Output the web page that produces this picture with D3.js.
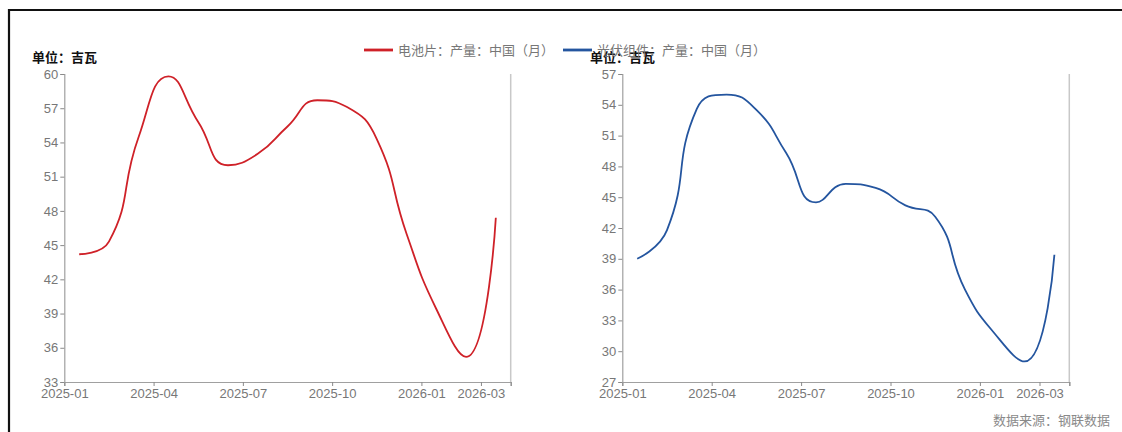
<!DOCTYPE html>
<html><head><meta charset="utf-8">
<script src="https://cdn.jsdelivr.net/npm/d3@7"></script>
<style>
html,body{margin:0;padding:0;background:#fff;}
svg{display:block;}
</style></head>
<body>
<script>
const months = ["2025-01","2025-02","2025-03","2025-04","2025-05","2025-06","2025-07","2025-08","2025-09","2025-10","2025-11","2025-12","2026-01","2026-02","2026-03"];
const cellOutput = [44.2,45.3,54.5,59.8,55.8,52.0,53.0,55.4,57.7,57.1,54.3,46.0,39.4,35.2,47.4];
const moduleOutput = [39.0,41.8,53.6,55.0,53.5,49.3,44.5,46.3,45.9,44.2,43.1,36.0,31.7,29.0,39.4];
const xTickLabels = ["2025-01","2025-04","2025-07","2025-10","2026-01","2026-03"];
const leftYTicks = [33,36,39,42,45,48,51,54,57,60];
const rightYTicks = [27,30,33,36,39,42,45,48,51,54,57];
const seriesNames = ["电池片：产量：中国（月）","光伏组件：产量：中国（月）"];
const colors = ["#cf2128","#24559f"];
const unitLabel = "单位：吉瓦";
const sourceLabel = "数据来源：钢联数据";

// smooth curve (segment-length weighted bezier with bounding-box constraints)
function curveSmoothBox(context) {
  let pts = [];
  const smooth = 0.5;
  return {
    areaStart() {}, areaEnd() {},
    lineStart() { pts = []; },
    point(x, y) { pts.push([+x, +y]); },
    lineEnd() {
      const n = pts.length;
      if (!n) return;
      context.moveTo(pts[0][0], pts[0][1]);
      let cp0x = pts[0][0], cp0y = pts[0][1];
      for (let i = 1; i < n; i++) {
        const [x, y] = pts[i];
        const [px, py] = pts[i - 1];
        let cp1x, cp1y, ncx = x, ncy = y;
        if (i === n - 1) { cp1x = x; cp1y = y; }
        else {
          const [nx, ny] = pts[i + 1];
          let vx = nx - px, vy = ny - py;
          const lp = Math.hypot(x - px, y - py), ln = Math.hypot(nx - x, ny - y);
          const r = ln / (ln + lp);
          ncx = x + vx * smooth * r; ncy = y + vy * smooth * r;
          ncx = Math.max(Math.min(ncx, Math.max(nx, x)), Math.min(nx, x));
          ncy = Math.max(Math.min(ncy, Math.max(ny, y)), Math.min(ny, y));
          vx = ncx - x; vy = ncy - y;
          cp1x = x - vx * lp / ln; cp1y = y - vy * lp / ln;
          cp1x = Math.max(Math.min(cp1x, Math.max(px, x)), Math.min(px, x));
          cp1y = Math.max(Math.min(cp1y, Math.max(py, y)), Math.min(py, y));
          vx = x - cp1x; vy = y - cp1y;
          ncx = x + vx * ln / lp; ncy = y + vy * ln / lp;
        }
        context.bezierCurveTo(cp0x, cp0y, cp1x, cp1y, x, y);
        cp0x = ncx; cp0y = ncy;
      }
    }
  };
}

const W = 1122, H = 432;
const svg = d3.select("body").append("svg").attr("width", W).attr("height", H);

// frame
svg.append("path").attr("d", `M9,${H} L9,10 L${W},10`).attr("fill","none").attr("stroke","#111").attr("stroke-width",2.2);

const monthIdx = m => { const [y, mo] = m.split("-").map(Number); return (y - 2025) * 12 + (mo - 1); };

function panel(x0, x1, yTicks, values, color) {
  const top = 74, bottom = 382;
  const x = d3.scaleLinear().domain([0, 15]).range([x0, x1]);
  const y = d3.scaleLinear().domain([yTicks[0], yTicks[yTicks.length - 1]]).range([bottom, top]);
  const g = svg.append("g");
  g.append("line").attr("x1", x1).attr("x2", x1).attr("y1", top).attr("y2", bottom)
    .attr("stroke", "#c8c8c8").attr("stroke-width", 1.5);
  const xa = g.append("g").attr("transform", `translate(0,${bottom})`)
    .call(d3.axisBottom(x).tickValues(xTickLabels.map(monthIdx).concat([15])).tickSize(4).tickPadding(3)
      .tickFormat((d, i) => i < xTickLabels.length ? xTickLabels[i] : ""));
  const ya = g.append("g").attr("transform", `translate(${x0},0)`)
    .call(d3.axisLeft(y).tickValues(yTicks).tickSize(4).tickPadding(2));
  [xa, ya].forEach(a => {
    a.select(".domain").attr("stroke", "#a0a0a0").attr("stroke-width", 1.2);
    a.selectAll(".tick line").attr("stroke", "#8a8a8a");
    a.selectAll(".tick text").attr("fill", "#777").style("font-family", "'Liberation Sans', Arial, sans-serif").style("font-size", "13px");
  });
  const line = d3.line().x((d, i) => x(monthIdx(months[i]) + 0.5)).y(d => y(d)).curve(curveSmoothBox);
  g.append("path").datum(values).attr("d", line).attr("fill", "none").attr("stroke", color).attr("stroke-width", 1.8);
}

panel(64.3, 510.7, leftYTicks, cellOutput, colors[0]);
panel(622.3, 1069.3, rightYTicks, moduleOutput, colors[1]);

const cjk = "'Noto Sans CJK SC', sans-serif";
[32, 590].forEach(xp => {
  svg.append("text").attr("x", xp).attr("y", 62).text(unitLabel)
    .style("font-family", cjk).style("font-size", "13px").style("font-weight", "bold").attr("fill", "#111");
});

const legendX = [364, 563];
seriesNames.forEach((n, i) => {
  svg.append("line").attr("x1", legendX[i]).attr("x2", legendX[i] + 29).attr("y1", 50).attr("y2", 50)
    .attr("stroke", colors[i]).attr("stroke-width", 2.8);
  svg.append("text").attr("x", legendX[i] + 34).attr("y", 54.5).text(n)
    .style("font-family", cjk).style("font-size", "13px").attr("fill", "#777");
});

svg.append("text").attr("x", 1110).attr("y", 424.5).attr("text-anchor", "end").text(sourceLabel)
  .style("font-family", cjk).style("font-size", "13px").attr("fill", "#8a8a8a");
</script>
</body></html>
